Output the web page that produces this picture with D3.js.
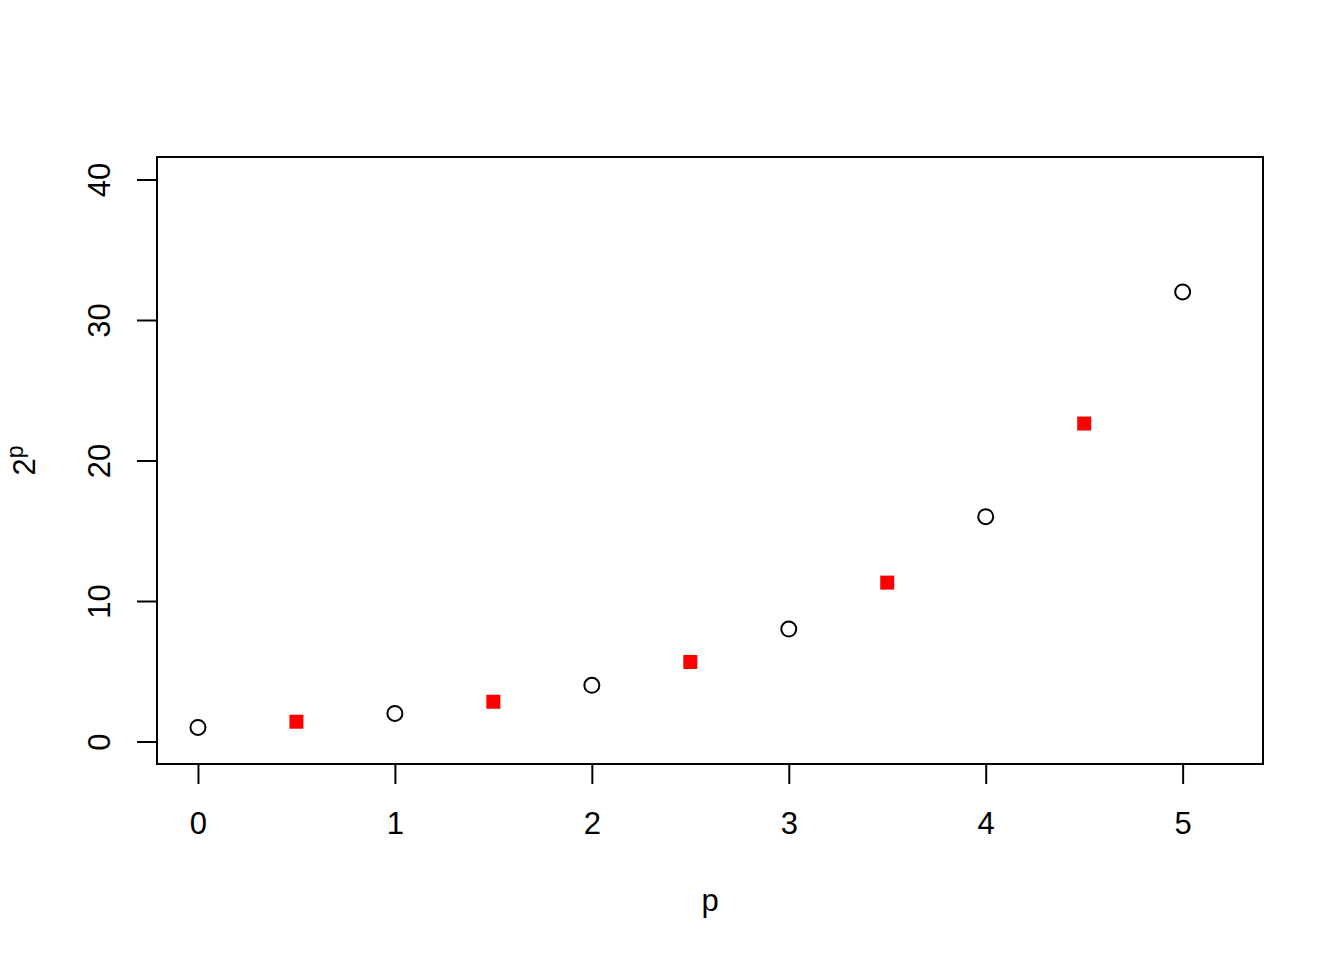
<!DOCTYPE html>
<html>
<head>
<meta charset="utf-8">
<script src="https://cdn.jsdelivr.net/npm/d3@7"></script>
<style>
  body { margin: 0; background: #fff; }
  text { font-family: "Liberation Sans", Arial, sans-serif; }
</style>
</head>
<body>
<svg id="canvas" width="1344" height="960"></svg>
<script>
// whole powers, drawn as open circles
let pWhole = [0, 1, 2, 3, 4, 5]
let yWhole = [1, 2, 4, 8, 16, 32]
// half powers, drawn as red squares
let pHalf = [0.5, 1.5, 2.5, 3.5, 4.5]
let yHalf = [1.41, 2.83, 5.66, 11.31, 22.63]

let xTicks = [0, 1, 2, 3, 4, 5]
let yTicks = [0, 10, 20, 30, 40]

const svg = d3.select('#canvas')
const boxL = 157, boxR = 1263, boxT = 157, boxB = 764

// R style 4% padding around xlim c(0, 5.2) and ylim c(0, 40)
const x = d3.scaleLinear().domain([-0.208, 5.408]).range([boxL, boxR])
const y = d3.scaleLinear().domain([-1.6, 41.6]).range([boxB, boxT])

svg.append('rect')
  .attr('x', boxL).attr('y', boxT)
  .attr('width', boxR - boxL).attr('height', boxB - boxT)
  .attr('fill', 'none').attr('stroke', '#000').attr('stroke-width', 2)

let xAxis = svg.append('g')
  .attr('transform', `translate(0,${boxB})`)
  .call(d3.axisBottom(x).tickValues(xTicks).tickSize(20).tickPadding(28).tickFormat(d3.format('d')))
xAxis.select('.domain').remove()

let yAxis = svg.append('g')
  .attr('transform', `translate(${boxL},0)`)
  .call(d3.axisLeft(y).tickValues(yTicks).tickSize(20).tickFormat(d3.format('d')))
yAxis.select('.domain').remove()

svg.selectAll('.tick line').attr('stroke', '#000').attr('stroke-width', 2)
xAxis.selectAll('text').attr('font-size', 31).attr('fill', '#000')
yAxis.selectAll('.tick text')
  .attr('font-size', 31).attr('fill', '#000')
  .attr('text-anchor', 'middle')
  .attr('transform', 'rotate(-90)')
  .attr('x', 0).attr('y', -47)
  .attr('dy', null)

// axis lines span first to last tick like R
svg.append('line')
  .attr('x1', x(0)).attr('x2', x(5))
  .attr('y1', boxB).attr('y2', boxB)
  .attr('stroke', '#000').attr('stroke-width', 2)
svg.append('line')
  .attr('x1', boxL).attr('x2', boxL)
  .attr('y1', y(0)).attr('y2', y(40))
  .attr('stroke', '#000').attr('stroke-width', 2)

svg.selectAll('.halfpt')
  .data(pHalf)
  .enter()
  .append('rect')
  .attr('class', 'halfpt')
  .attr('x', (d) => x(d) - 7)
  .attr('y', (d, i) => y(yHalf[i]) - 7)
  .attr('width', 14).attr('height', 14)
  .attr('fill', '#ff0000')

svg.selectAll('.wholept')
  .data(pWhole)
  .enter()
  .append('circle')
  .attr('class', 'wholept')
  .attr('cx', (d) => x(d))
  .attr('cy', (d, i) => y(yWhole[i]))
  .attr('r', 7.5)
  .attr('fill', 'none')
  .attr('stroke', '#000')
  .attr('stroke-width', 2)

svg.append('text')
  .attr('x', (boxL + boxR) / 2).attr('y', 911)
  .attr('text-anchor', 'middle').attr('font-size', 31)
  .text('p')

let ylab = svg.append('text')
  .attr('transform', `translate(35,${(boxT + boxB) / 2}) rotate(-90)`)
  .attr('text-anchor', 'middle').attr('font-size', 31)
ylab.append('tspan').text('2')
ylab.append('tspan').attr('font-size', 23).attr('dy', -12).text('p')
</script>
</body>
</html>
